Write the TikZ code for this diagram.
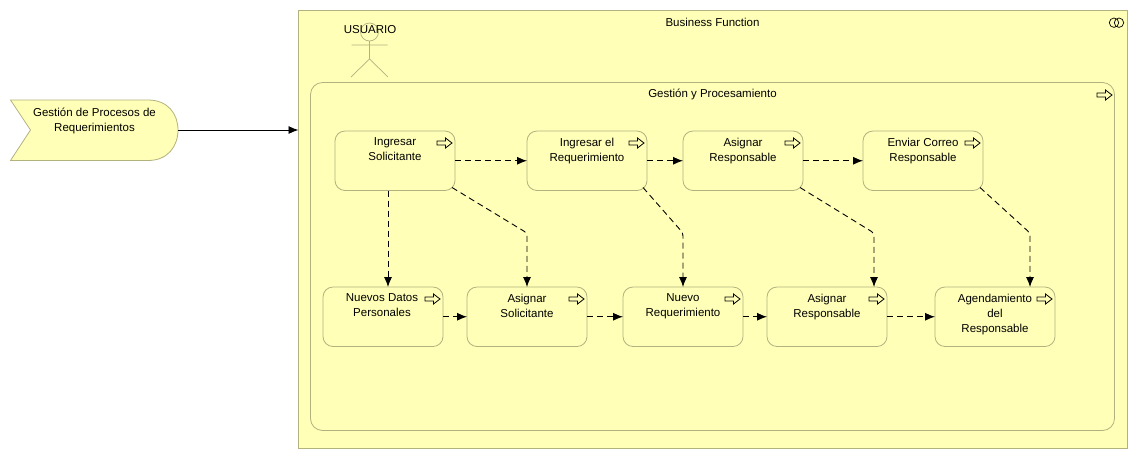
\documentclass[tikz,border=0pt]{standalone}
\usepackage{fontspec}
\setmainfont{Liberation Sans}
\usepackage{xcolor}
\usetikzlibrary{positioning,arrows.meta}
\definecolor{bizfill}{RGB}{255,255,184}
\definecolor{bizline}{RGB}{178,178,126}
\tikzset{
    bizbox/.style={draw=bizline, fill=bizfill, line width=0.8pt, inner sep=0pt, outer sep=0pt, anchor=north west},
    procbox/.style={bizbox, rounded corners=10pt, minimum width=120pt, minimum height=59.5pt},
    boxtext/.style={inner sep=0pt, align=center, font=\fontsize{11.5}{15}\selectfont, text=black},
    flow/.style={draw=black, line width=0.9pt, dash pattern=on 6pt off 4pt, rounded corners=3pt, -{Latex[length=10pt,width=8pt]}},
    trigger/.style={draw=black, line width=0.9pt, -{Latex[length=10pt,width=8pt]}},
    procicon/.pic={
        \draw[black, fill=bizfill, line width=0.8pt] (-7.5,-2) -- (1,-2) -- (1,-5) -- (7.5,0) -- (1,5) -- (1,2) -- (-7.5,2) -- cycle;
    }
}
\begin{document}
\begin{tikzpicture}[x=1pt,y=-1pt]
    \useasboundingbox (0,0) rectangle (1137,459);
    % outer frame and inner process
    \node[bizbox, minimum width=828.5pt, minimum height=437.5pt] (func) at (298.5,10.5) {};
    \node[boxtext] (funcText) at (712.5,22) {Business Function};
    \draw[black, line width=0.7pt] (1114,22.7) circle[radius=4.7] (1119,22.7) circle[radius=4.7];
    \node[bizbox, rounded corners=12pt, minimum width=804pt, minimum height=348pt] (gest) at (310.5,82.5) {};
    \node[boxtext] (gestText) at (712.5,94.5) {Gestión y Procesamiento};
    \pic at (1104.5,95) {procicon};
    % actor
    \draw[bizline, line width=0.7pt] (369.5,32) circle[radius=9]
        (369.5,41) -- (369.5,59) (351.5,45) -- (387.5,45)
        (351,77) -- (369.5,59) -- (388,77);
    \node[boxtext] (actor) at (370,30) {USUARIO};
    % event
    \draw[bizline, fill=bizfill, line width=0.8pt] (10.5,100) -- (148,100)
        .. controls (168,100) and (178,114) .. (178,130)
        .. controls (178,146) and (168,160.5) .. (148,160.5)
        -- (10.5,160.5) -- (30.5,130) -- cycle;
    \coordinate (evEnd) at (178,130);
    \node[boxtext] (evText) at (94.5,120.5) {Gestión de Procesos de\\Requerimientos};
    % top row
    \node[procbox] (ingSol) at (335,131) {};
    \node[procbox] (ingReq) at (527,131) {};
    \node[procbox] (asiRes) at (683,131) {};
    \node[procbox] (envCor) at (863,131) {};
    % bottom row
    \node[procbox] (nueDat) at (323,287) {};
    \node[procbox] (asiSol) at (467,287) {};
    \node[procbox] (nueReq) at (623,287) {};
    \node[procbox] (asiRes2) at (767,287) {};
    \node[procbox] (agenda) at (935,287) {};
    % box labels
    \node[boxtext, below=6.5pt of ingSol.north] (t1) {Ingresar\\Solicitante};
    \node[boxtext, below=6.5pt of ingReq.north] (t2) {Ingresar el\\Requerimiento};
    \node[boxtext, below=6.5pt of asiRes.north] (t3) {Asignar\\Responsable};
    \node[boxtext, below=6.5pt of envCor.north] (t4) {Enviar Correo\\Responsable};
    \node[boxtext, below=6.5pt of nueDat.north, xshift=-1pt] (t5) {Nuevos Datos\\Personales};
    \node[boxtext, below=6.5pt of asiSol.north] (t6) {Asignar\\Solicitante};
    \node[boxtext, below=6.5pt of nueReq.north] (t7) {Nuevo\\Requerimiento};
    \node[boxtext, below=6.5pt of asiRes2.north] (t8) {Asignar\\Responsable};
    \node[boxtext, below=6.5pt of agenda.north] (t9) {Agendamiento\\del\\Responsable};
    \foreach \n in {ingSol,ingReq,asiRes,envCor,nueDat,asiSol,nueReq,asiRes2,agenda}
        \pic at ([xshift=-10.5pt,yshift=-12pt]\n.north east) {procicon};
    % connectors
    \draw[trigger] (evEnd) -- (evEnd -| func.west);
    \draw[flow] (ingSol.east) -- (ingReq.west);
    \draw[flow] (ingReq.east) -- (asiRes.west);
    \draw[flow] (asiRes.east) -- (envCor.west);
    \draw[flow] (nueDat.east) -- (asiSol.west);
    \draw[flow] (asiSol.east) -- (nueReq.west);
    \draw[flow] (nueReq.east) -- (asiRes2.west);
    \draw[flow] (asiRes2.east) -- (agenda.west);
    \draw[flow] ([xshift=-7pt]ingSol.south) -- ([xshift=5pt]nueDat.north);
    \draw[flow] ([xshift=-3pt,yshift=3pt]ingSol.south east) -- (527,233) -- (asiSol.north);
    \draw[flow] ([xshift=-4pt,yshift=3pt]ingReq.south east) -- (683,233) -- (nueReq.north);
    \draw[flow] ([xshift=-3pt,yshift=3pt]asiRes.south east) -- (874,233) -- ([xshift=47pt]asiRes2.north);
    \draw[flow] ([xshift=-3pt,yshift=3pt]envCor.south east) -- (1030,233) -- ([xshift=35pt]agenda.north);
\end{tikzpicture}
\end{document}
